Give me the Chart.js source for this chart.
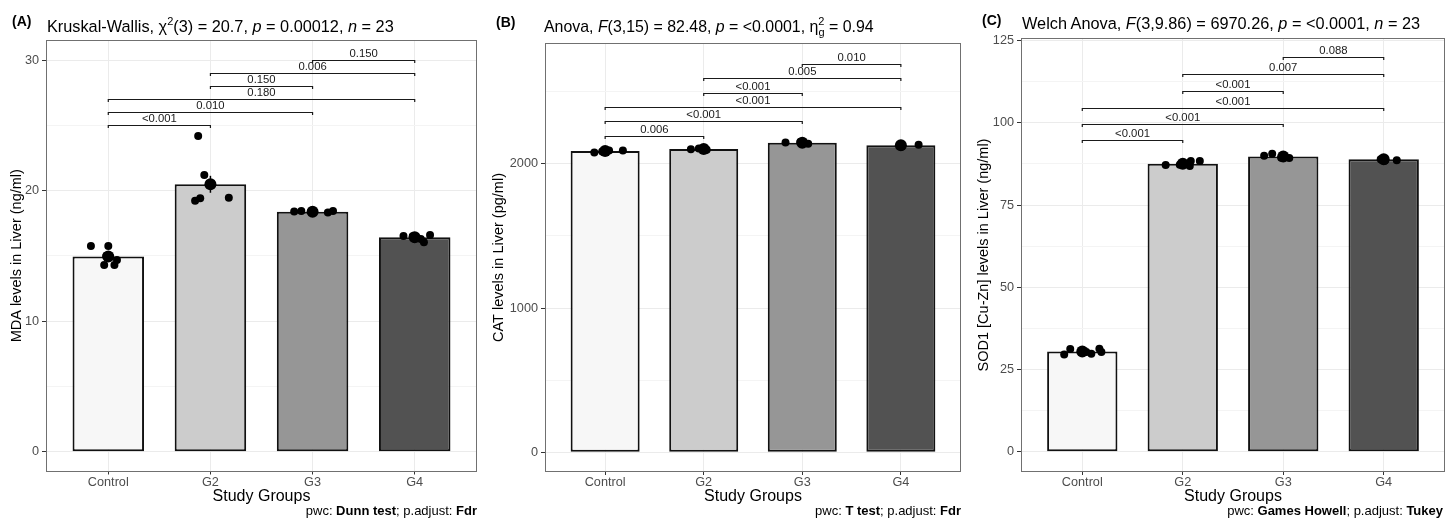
<!DOCTYPE html>
<html><head><meta charset="utf-8">
<script src="https://cdn.jsdelivr.net/npm/chart.js@4.4.1/dist/chart.umd.min.js"></script>
<style>
html,body{margin:0;padding:0;background:#fff;}
#wrap{position:relative;width:1445px;height:519px;overflow:hidden;font-family:"Liberation Sans",Arial,sans-serif;background:#fff;}
canvas{position:absolute;top:0;}
.tag{position:absolute;font-weight:bold;font-size:14px;line-height:14px;color:#000;white-space:nowrap;}
.ttl{position:absolute;font-size:16.3px;line-height:16px;color:#000;white-space:nowrap;}
.sup{font-size:11px;position:relative;top:-7px;}
.sub{font-size:11px;position:relative;top:4px;}
.cap{position:absolute;font-size:13px;line-height:13px;color:#000;white-space:nowrap;text-align:right;}
</style></head>
<body>
<div id="wrap">
  <canvas id="cA" width="480" height="519" style="left:0px"></canvas>
  <canvas id="cB" width="482" height="519" style="left:480px"></canvas>
  <canvas id="cC" width="483" height="519" style="left:962px"></canvas>

  <div class="tag" style="left:12px;top:14px">(A)</div>
  <div class="ttl" style="left:47px;top:18px">Kruskal-Wallis, χ<span class="sup">2</span>(3) = 20.7, <i>p</i> = 0.00012, <i>n</i> = 23</div>
  <div class="tag" style="left:496px;top:15px">(B)</div>
  <div class="ttl" style="left:544px;top:18.5px;font-size:15.9px">Anova, <i>F</i>(3,15) = 82.48, <i>p</i> = &lt;0.0001, η<span class="sup">2</span><span class="sub" style="margin-left:-6px">g</span> = 0.94</div>
  <div class="tag" style="left:982px;top:13px">(C)</div>
  <div class="ttl" style="left:1022px;top:14.5px">Welch Anova, <i>F</i>(3,9.86) = 6970.26, <i>p</i> = &lt;0.0001, <i>n</i> = 23</div>

  <div class="cap" style="right:968px;top:504px">pwc: <b>Dunn test</b>; p.adjust: <b>Fdr</b></div>
  <div class="cap" style="right:484px;top:504px">pwc: <b>T test</b>; p.adjust: <b>Fdr</b></div>
  <div class="cap" style="right:2px;top:504px">pwc: <b>Games Howell</b>; p.adjust: <b>Tukey</b></div>
</div>
<script>
// ---------- shared ----------
const categories = ['Control', 'G2', 'G3', 'G4'];
const barColors = ['#f7f7f7', '#cccccc', '#969696', '#525252'];

// ---------- Panel A : MDA ----------
const meanA = [14.96, 20.49, 18.39, 16.43];
const seA = [0.22, 0.65, 0.04, 0.10];
const ptGroupA = [1,1,1,1,1,1, 2,2,2,2,2, 3,3,3,3,3, 4,4,4,4,4];
const ptJitterA = [-0.17,0.0,-0.02,0.085,-0.04,0.06, -0.12,-0.06,-0.15,-0.10,0.18, -0.18,-0.11,0.0,0.15,0.20, -0.11,-0.02,0.06,0.09,0.15];
const ptValueA = [15.76,15.76,15.0,14.68,14.3,14.3, 24.2,21.2,19.23,19.42,19.46, 18.40,18.45,18.35,18.32,18.45, 16.53,16.5,16.3,16.05,16.6];
const bracketFromA = [1,1,1,2,2,3];
const bracketToA = [2,3,4,3,4,4];
const bracketYA = [25,26,27,28,29,30];
const bracketLabelA = ['<0.001','0.010','0.180','0.150','0.006','0.150'];
const yMajorA = [0,10,20,30];
const yMinorA = [5,15,25];

// ---------- Panel B : CAT ----------
const meanB = [2089, 2103, 2147, 2129];
const seB = [8, 5, 6, 5];
const ptGroupB = [1,1,1,1, 2,2,2, 3,3,3, 4,4];
const ptJitterB = [-0.11,-0.03,0.04,0.18, -0.13,-0.05,0.03, -0.17,-0.02,0.06, 0.01,0.18];
const ptValueB = [2078,2085,2092,2093, 2101,2106,2098, 2148,2152,2140, 2120,2133];
const bracketFromB = [1,1,1,2,2,3];
const bracketToB = [2,3,4,3,4,4];
const bracketYB = [2196,2294,2393,2492,2592,2692];
const bracketLabelB = ['0.006','<0.001','<0.001','<0.001','0.005','0.010'];
const yMajorB = [0,1000,2000];
const yMinorB = [500,1500,2500];

// ---------- Panel C : SOD1 ----------
const meanC = [30.5, 87.6, 89.8, 88.9];
const seC = [0.3, 0.3, 0.3, 0.2];
const ptGroupC = [1,1,1,1,1,1, 2,2,2,2,2, 3,3,3,3, 4,4,4];
const ptJitterC = [-0.18,-0.12,0.04,0.09,0.17,0.19, -0.17,-0.03,0.07,0.08,0.17, -0.19,-0.11,-0.02,0.06, -0.03,0.01,0.13];
const ptValueC = [29.6,31.2,30.3,29.8,31.3,30.3, 87.2,87.3,86.9,88.4,88.4, 90.0,90.6,89.4,89.3, 88.9,88.5,88.6];
const bracketFromC = [1,1,1,2,2,3];
const bracketToC = [2,3,4,3,4,4];
const bracketYC = [94.8,99.7,104.6,109.7,114.8,119.9];
const bracketLabelC = ['<0.001','<0.001','<0.001','<0.001','0.007','0.088'];
const yMajorC = [0,25,50,75,100,125];
const yMinorC = [12.5,37.5,62.5,87.5,112.5];

Chart.defaults.font.family = '"Liberation Sans", Arial, sans-serif';

function panelPlugin(o) {
  return {
    id: 'panel_' + o.id,
    afterDatasetsDraw(chart) {
      const ctx = chart.ctx, x = chart.scales.x, y = chart.scales.y;
      ctx.save();
      ctx.strokeStyle = '#000'; ctx.lineWidth = 1.5;
      o.means.forEach((m, i) => {
        const px = x.getPixelForValue(i + 1);
        ctx.beginPath();
        ctx.moveTo(px, y.getPixelForValue(m - o.se[i]));
        ctx.lineTo(px, y.getPixelForValue(m + o.se[i]));
        ctx.stroke();
      });
      ctx.strokeStyle = '#1a1a1a'; ctx.lineWidth = 1.2;
      ctx.fillStyle = '#1a1a1a';
      ctx.font = '11.3px "Liberation Sans", Arial, sans-serif';
      ctx.textAlign = 'center'; ctx.textBaseline = 'alphabetic';
      o.bFrom.forEach((f, i) => {
        const x1 = x.getPixelForValue(f), x2 = x.getPixelForValue(o.bTo[i]);
        const py = Math.round(y.getPixelForValue(o.bY[i])) + 0.5;
        ctx.beginPath();
        ctx.moveTo(x1, py + 2.5); ctx.lineTo(x1, py); ctx.lineTo(x2, py); ctx.lineTo(x2, py + 2.5);
        ctx.stroke();
        ctx.fillText(o.bLabel[i], (x1 + x2) / 2, py - 3.5);
      });
      ctx.restore();
    },
    afterDraw(chart) {
      const ctx = chart.ctx, a = chart.chartArea;
      ctx.save();
      ctx.strokeStyle = '#707070'; ctx.lineWidth = 1;
      const l = Math.round(a.left) - 0.5, t = Math.round(a.top) - 0.5;
      const r = Math.round(a.right) + 0.5, b = Math.round(a.bottom) + 0.5;
      ctx.strokeRect(l, t, r - l, b - t);
      ctx.restore();
    }
  };
}

function makePanel(o) {
  const allTicks = o.major.concat(o.minor).sort((a, b) => a - b);
  const isMajor = v => o.major.indexOf(v) >= 0;
  return new Chart(document.getElementById(o.id).getContext('2d'), {
    type: 'bar',
    data: {
      datasets: [
        { type: 'bar', data: o.means.map((m, i) => ({ x: i + 1, y: m })),
          backgroundColor: barColors, borderColor: '#111', borderWidth: 2,
          borderSkipped: false, barPercentage: 0.7, categoryPercentage: 1, order: 3 },
        { type: 'scatter', data: o.ptGroup.map((g, i) => ({ x: g + o.ptJitter[i], y: o.ptValue[i] })),
          pointRadius: 4, pointBackgroundColor: '#000', pointBorderWidth: 0, order: 2 },
        { type: 'scatter', data: o.means.map((m, i) => ({ x: i + 1, y: m })),
          pointRadius: 6, pointBackgroundColor: '#000', pointBorderWidth: 0, order: 1 }
      ]
    },
    options: {
      responsive: false, animation: false,
      layout: { autoPadding: false, padding: { left: 0, top: o.top, right: o.padRight, bottom: 13 } },
      plugins: { legend: { display: false }, tooltip: { enabled: false } },
      scales: {
        x: {
          type: 'linear', min: 0.4, max: 4.6, offset: false,
          afterBuildTicks: s => { s.ticks = [1, 2, 3, 4].map(v => ({ value: v })); },
          afterFit: s => { s.height = o.xAxisHeight; s.paddingLeft = 0; s.paddingRight = 0; },
          ticks: { callback: v => categories[v - 1], color: '#4d4d4d', font: { size: 12.7 },
                   padding: 0, maxRotation: 0, autoSkip: false },
          grid: { color: '#ebebeb', lineWidth: 1, tickLength: 4, tickColor: '#333', offset: false },
          border: { display: false },
          title: { display: true, text: 'Study Groups', color: '#000', font: { size: 16 },
                   padding: { top: 0, bottom: 0 } }
        },
        y: {
          type: 'linear', min: o.ymin, max: o.ymax,
          afterBuildTicks: s => { s.ticks = allTicks.map(v => ({ value: v })); },
          afterFit: s => { s.width = o.yAxisWidth; s.paddingTop = 0; s.paddingBottom = 0; },
          ticks: { callback: v => isMajor(v) ? String(v) : '', color: '#4d4d4d',
                   font: { size: 12.7 }, padding: 3, autoSkip: false },
          grid: {
            color: c => (c.tick && isMajor(c.tick.value)) ? '#ebebeb' : '#f4f4f4',
            lineWidth: 1, tickLength: 5,
            tickColor: c => (c.tick && isMajor(c.tick.value)) ? '#333' : 'rgba(0,0,0,0)'
          },
          border: { display: false },
          title: { display: true, text: o.yTitle, color: '#000', font: { size: 14.5 },
                   padding: { top: o.yTitlePad, bottom: 0 } }
        }
      }
    },
    plugins: [panelPlugin(o)]
  });
}

makePanel({ id: 'cA', means: meanA, se: seA, ptGroup: ptGroupA, ptJitter: ptJitterA, ptValue: ptValueA,
  bFrom: bracketFromA, bTo: bracketToA, bY: bracketYA, bLabel: bracketLabelA,
  major: yMajorA, minor: yMinorA, ymin: -1.44, ymax: 31.47,
  top: 41, padRight: 4, yAxisWidth: 47, xAxisHeight: 35.5, yTitlePad: 7.8,
  yTitle: 'MDA levels in Liver (ng/ml)' });

makePanel({ id: 'cB', means: meanB, se: seB, ptGroup: ptGroupB, ptJitter: ptJitterB, ptValue: ptValueB,
  bFrom: bracketFromB, bTo: bracketToB, bY: bracketYB, bLabel: bracketLabelB,
  major: yMajorB, minor: yMinorB, ymin: -130, ymax: 2831,
  top: 44, padRight: 2, yAxisWidth: 66, xAxisHeight: 35, yTitlePad: 10.5,
  yTitle: 'CAT levels in Liver (pg/ml)' });

makePanel({ id: 'cC', means: meanC, se: seC, ptGroup: ptGroupC, ptJitter: ptJitterC, ptValue: ptValueC,
  bFrom: bracketFromC, bTo: bracketToC, bY: bracketYC, bLabel: bracketLabelC,
  major: yMajorC, minor: yMinorC, ymin: -5.86, ymax: 125.5,
  top: 39, padRight: 1, yAxisWidth: 60, xAxisHeight: 35, yTitlePad: 12.8,
  yTitle: 'SOD1 [Cu-Zn] levels in Liver (ng/ml)' });
</script>
</body></html>
